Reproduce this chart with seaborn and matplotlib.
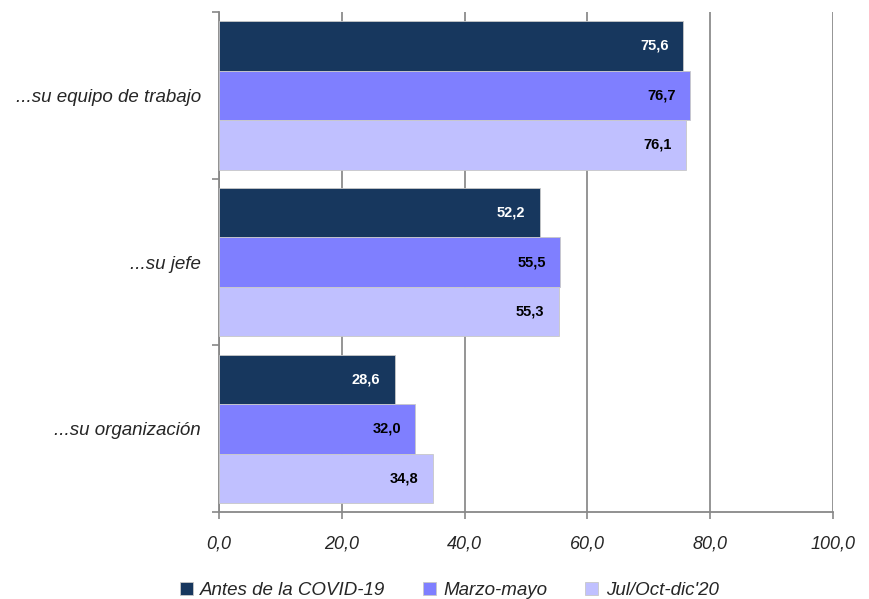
import numpy as np
import pandas as pd
import matplotlib.pyplot as plt
import seaborn as sns
from matplotlib.ticker import FixedLocator

categorias = ['...su equipo de trabajo', '...su jefe', '...su organización']
periodos = ['Antes de la COVID-19', 'Marzo-mayo', "Jul/Oct-dic'20"]
antes = [75.6, 52.2, 28.6]
marzo = [76.7, 55.5, 32.0]
julio = [76.1, 55.3, 34.8]
colores = ['#17375e', '#7f7fff', '#c0c0ff']

df = pd.DataFrame({
    'categoria': categorias * 3,
    'periodo': [p for p in periodos for _ in categorias],
    'valor': antes + marzo + julio,
})

sns.set_style('white')
plt.rcParams['font.family'] = ['Liberation Sans Narrow', 'Liberation Sans', 'DejaVu Sans']

fig = plt.figure(figsize=(8.69, 5.99), dpi=100)
ax = fig.add_axes([0.252, 0.145, 0.7066, 0.835])

sns.barplot(data=df, x='valor', y='categoria', hue='periodo', order=categorias,
            hue_order=periodos, palette=colores, saturation=1, orient='h', width=0.89,
            edgecolor='#c8c8c8', linewidth=0.6, ax=ax, zorder=3)

ax.set_xlim(0, 100)
ax.set_ylim(2.5, -0.5)
ax.set_xticks([0, 20, 40, 60, 80, 100])
ax.set_xticklabels(['0,0', '20,0', '40,0', '60,0', '80,0', '100,0'],
                   style='italic', fontsize=13)
ax.set_yticklabels(categorias, style='italic', fontsize=13.5)
ax.tick_params(axis='y', which='major', left=False, length=0, pad=13)
ax.yaxis.set_minor_locator(FixedLocator([-0.5, 0.5, 1.5, 2.5]))
ax.tick_params(axis='y', which='minor', left=True, length=5, color='#888888', width=1.2)
ax.tick_params(axis='x', bottom=True, length=5, color='#888888', width=1.2, pad=12)
ax.set_xlabel('')
ax.set_ylabel('')
ax.grid(axis='x', color='#8c8c8c', linewidth=1.3, zorder=0)
for s in ['top', 'right']:
    ax.spines[s].set_visible(False)
for s in ['left', 'bottom']:
    ax.spines[s].set_color('#888888')
    ax.spines[s].set_linewidth(1.3)

for i, cont in enumerate(ax.containers):
    color = 'white' if i == 0 else 'black'
    for bar in cont:
        w = bar.get_width()
        ax.text(w - 2.3, bar.get_y() + bar.get_height() / 2,
                f'{w:.1f}'.replace('.', ','), ha='right', va='center',
                color=color, fontweight='bold', fontsize=10.5, zorder=4)

ax.legend(loc='upper center', bbox_to_anchor=(0.375, -0.105), ncol=3,
          frameon=False, prop={'style': 'italic', 'size': 13.5},
          handlelength=0.7, handleheight=0.7, handletextpad=0.4, columnspacing=2.0)

fig.savefig('out.png', dpi=100)
